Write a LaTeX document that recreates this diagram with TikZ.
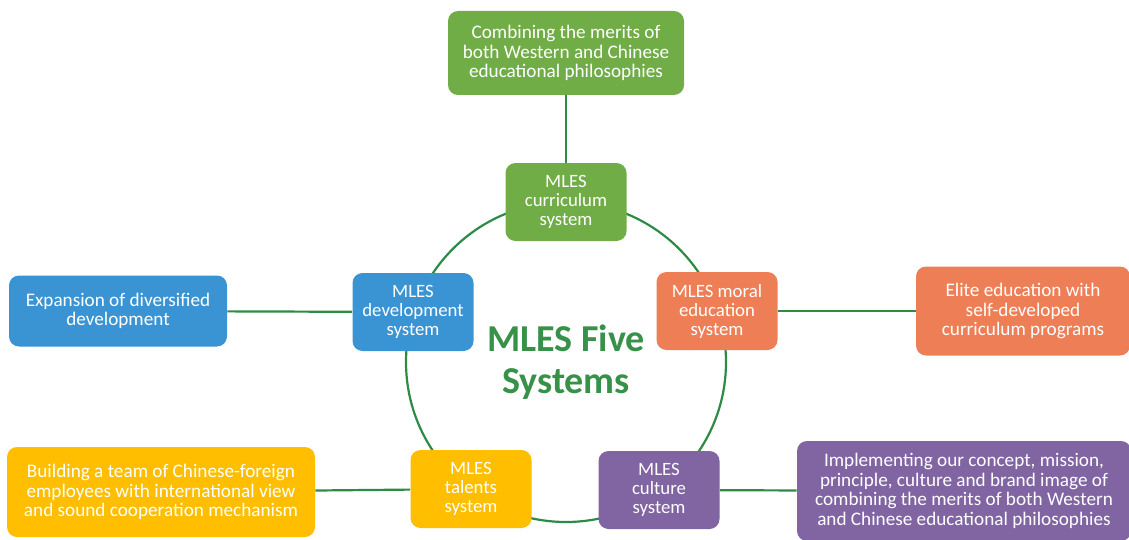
\documentclass[tikz,border=0pt]{standalone}
\usepackage{fontspec}
\setmainfont{Carlito}
\usetikzlibrary{positioning}
\definecolor{mlesgreen}{RGB}{112, 173, 71}
\definecolor{mlesblue}{RGB}{58, 148, 211}
\definecolor{mlesorange}{RGB}{238, 126, 86}
\definecolor{mlesyellow}{RGB}{255, 190, 0}
\definecolor{mlespurple}{RGB}{129, 100, 162}
\definecolor{linkgreen}{RGB}{46, 139, 70}
\definecolor{titlegreen}{RGB}{55, 145, 72}

\begin{document}
\begin{tikzpicture}[
  x=0.5pt, y=-0.5pt,
  hub/.style={rectangle, rounded corners=5pt, fill=#1, text=white,
              minimum width=60.5pt, minimum height=39pt, align=center,
              inner sep=1pt, font=\fontsize{9.4}{9.5}\selectfont},
  leaf/.style={rectangle, rounded corners=5pt, fill=#1, text=white,
               align=center, inner sep=1pt,
               font=\fontsize{9.6}{9.8}\selectfont},
  link/.style={draw=linkgreen, line width=1.1pt}
]
  \useasboundingbox (0,0) rectangle (1129,540);

  % ring behind the five systems
  \node[circle, draw=linkgreen, line width=1.1pt, minimum size=160pt,
        inner sep=0pt] (ring) at (566,362) {};
  \node[align=center, text=titlegreen,
        font=\fontsize{19}{21}\selectfont\bfseries] (title) at (566,362)
       {MLES Five\\Systems};

  % the five systems
  \node[hub=mlesgreen] (curr) at (566,202) {MLES\\curriculum\\system};
  \node[hub=mlesblue] (dev) at (413,312) {MLES\\development\\system};
  \node[hub=mlesorange] (moral) at (717,311) {MLES moral\\education\\system};
  \node[hub=mlesyellow] (talent) at (471,489) {MLES\\talents\\system};
  \node[hub=mlespurple] (culture) at (659,490) {MLES\\culture\\system};

  % what each system stands for
  \node[leaf=mlesgreen, minimum width=118pt, minimum height=42pt]
       (currnote) at (566,53)
       {Combining the merits of\\both Western and Chinese\\educational philosophies};
  \node[leaf=mlesblue, minimum width=109pt, minimum height=35.5pt]
       (devnote) at (118,311)
       {Expansion of diversified\\development};
  \node[leaf=mlesorange, minimum width=107pt, minimum height=44.5pt]
       (moralnote) at (1023,311)
       {Elite education with\\self-developed\\curriculum programs};
  \node[leaf=mlesyellow, minimum width=154pt, minimum height=45pt]
       (talentnote) at (161,492)
       {Building a team of Chinese-foreign\\employees with international view\\and sound cooperation mechanism};
  \node[leaf=mlespurple, minimum width=167pt, minimum height=50pt]
       (culturenote) at (964,491)
       {Implementing our concept, mission,\\principle, culture and brand image of\\combining the merits of both Western\\and Chinese educational philosophies};

  \draw[link] (curr) -- (currnote);
  \draw[link] (dev) -- (devnote);
  \draw[link] (moral) -- (moralnote);
  \draw[link] (talent) -- (talentnote);
  \draw[link] (culture) -- (culturenote);
\end{tikzpicture}
\end{document}
